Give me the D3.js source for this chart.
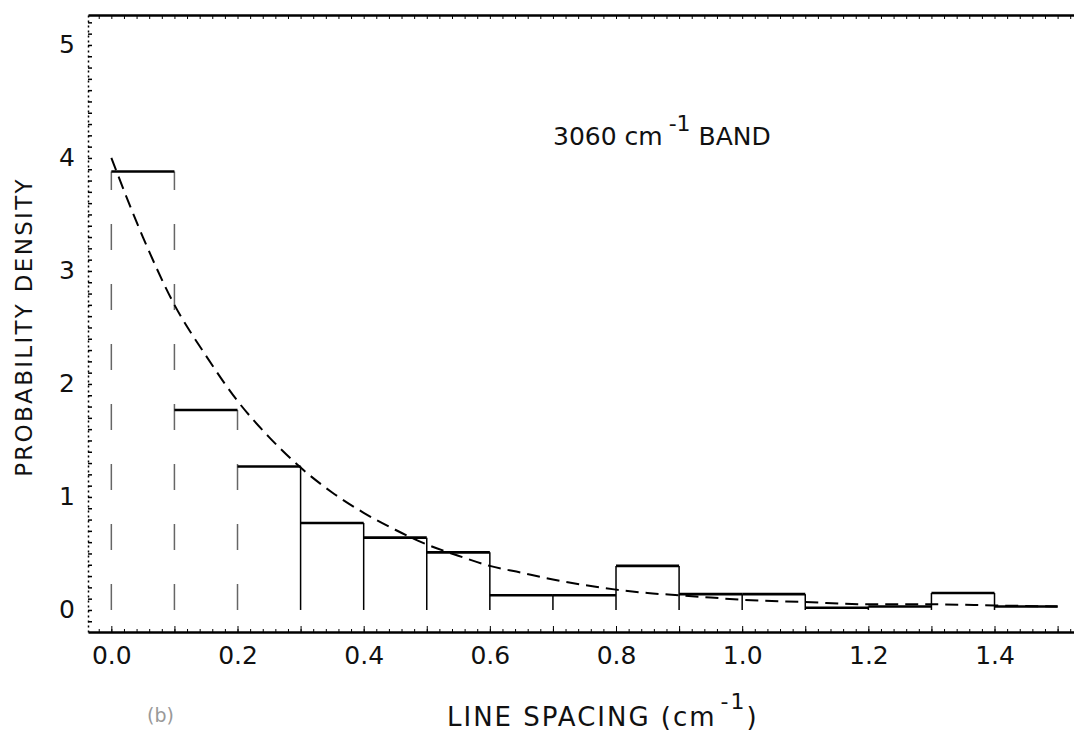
<!DOCTYPE html>
<html>
<head>
<meta charset="utf-8">
<script src="https://cdn.jsdelivr.net/npm/d3@7"></script>
<style>
    body { margin: 0; background: #fff; }
    svg { display: block; background: #fff; }
    text { font-family: "DejaVu Sans", sans-serif; fill: #111; }
</style>
</head>
<body>
<svg id="chart" width="1074" height="734"></svg>
<script>
// histogram bins (left edge, cm-1) and their heights
const binStarts = [0.0, 0.1, 0.2, 0.3, 0.4, 0.5, 0.6, 0.7, 0.8, 0.9, 1.0, 1.1, 1.2, 1.3, 1.4];
const binWidth = 0.1;
const binHeights = [3.88, 1.77, 1.27, 0.77, 0.64, 0.51, 0.13, 0.13, 0.39, 0.14, 0.14, 0.02, 0.03, 0.15, 0.03];

// dashed fitted curve
const curveX = [0.0, 0.05, 0.1, 0.15, 0.2, 0.25, 0.3, 0.35, 0.4, 0.45, 0.5, 0.55, 0.6, 0.65, 0.7, 0.75, 0.8, 0.85, 0.9, 0.95, 1.0, 1.1, 1.2, 1.3, 1.4, 1.5];
const curveY = [4.0, 3.3, 2.7, 2.25, 1.85, 1.53, 1.26, 1.04, 0.86, 0.71, 0.58, 0.48, 0.39, 0.33, 0.27, 0.22, 0.18, 0.15, 0.13, 0.11, 0.09, 0.07, 0.05, 0.05, 0.04, 0.03];

const xTickValues = [0.0, 0.2, 0.4, 0.6, 0.8, 1.0, 1.2, 1.4];
const xTickLabels = ['0.0', '0.2', '0.4', '0.6', '0.8', '1.0', '1.2', '1.4'];
const yTickValues = [0, 1, 2, 3, 4, 5];
const yTickLabels = ['0', '1', '2', '3', '4', '5'];

const bandLabel = '3060 cm';
const bandSup = '-1';
const bandRest = ' BAND';
const yTitle = 'PROBABILITY DENSITY';
const xTitle = 'LINE SPACING (cm';
const panelTag = '(b)';

const svg = d3.select('#chart');

const x = d3.scaleLinear()
    .domain([-0.037, 1.526])
    .range([88, 1074]);

const y = d3.scaleLinear()
    .domain([-0.195, 5.265])
    .range([632, 15]);

// minor tick positions along the frame
const xMinor = d3.range(-0.02, 1.53, 0.02);
const xMajor = d3.range(0, 1.51, 0.1);
const yMinor = d3.range(-0.1, 5.25, 0.1);

// bottom axis: minor ticks, then major ticks with labels
svg.append('g')
    .attr('transform', `translate(0, ${y.range()[0]})`)
    .call(d3.axisBottom(x).tickValues(xMinor).tickSize(-3).tickSizeOuter(0).tickFormat(''))
    .call(g => g.select('.domain').attr('stroke-width', 2.5));

svg.append('g')
    .attr('transform', `translate(0, ${y.range()[0]})`)
    .call(d3.axisBottom(x).tickValues(xMajor).tickSize(-6).tickSizeOuter(0).tickFormat(''))
    .call(g => g.select('.domain').remove());

svg.append('g')
    .attr('transform', `translate(0, ${y.range()[0]})`)
    .call(d3.axisBottom(x).tickValues(xTickValues).tickSize(0).tickPadding(14)
        .tickFormat((d, i) => xTickLabels[i]))
    .call(g => g.select('.domain').remove())
    .selectAll('text')
    .style('font-size', '25px')
    .style('fill', '#111');

// top frame line with downward ticks
svg.append('g')
    .attr('transform', `translate(0, ${y.range()[1]})`)
    .call(d3.axisTop(x).tickValues(xMinor).tickSize(-4).tickSizeOuter(0).tickFormat(''))
    .call(g => g.select('.domain').attr('stroke-width', 2.5));

// left axis: dotted line with inward ticks
svg.append('g')
    .attr('transform', `translate(${x.range()[0]}, 0)`)
    .call(d3.axisLeft(y).tickValues(yMinor).tickSize(-4).tickSizeOuter(0).tickFormat(''))
    .call(g => g.select('.domain').attr('stroke-dasharray', '2,3').attr('stroke-width', 1.5))
    .call(g => g.selectAll('.tick line').attr('stroke-width', 1.5));

svg.append('g')
    .attr('transform', `translate(${x.range()[0]}, 0)`)
    .call(d3.axisLeft(y).tickValues(yTickValues).tickSize(0).tickPadding(13)
        .tickFormat((d, i) => yTickLabels[i]))
    .call(g => g.select('.domain').remove())
    .selectAll('text')
    .style('font-size', '25px')
    .style('fill', '#111');

// histogram: each bin as an open box (no bottom)
const bins = binStarts.map((s, i) => ({ x0: s, x1: s + binWidth, h: binHeights[i] }));

const hist = svg.append('g').attr('fill', 'none').attr('stroke', '#000');

// vertical edges (the first ones are faint / broken in the scan)
hist.selectAll('line.edge')
    .data(bins)
    .join('line')
    .attr('class', 'edge')
    .attr('x1', d => x(d.x0))
    .attr('x2', d => x(d.x0))
    .attr('y1', y(0))
    .attr('y2', (d, i) => y(Math.max(d.h, i > 0 ? bins[i - 1].h : 0)))
    .attr('stroke-width', 1.5)
    .attr('stroke', d => d.x0 < 0.25 ? '#666' : '#000')
    .attr('stroke-dasharray', d => d.x0 < 0.25 ? '26,34' : null);

// bin tops
hist.selectAll('line.top')
    .data(bins)
    .join('line')
    .attr('class', 'top')
    .attr('x1', d => x(d.x0))
    .attr('x2', d => x(d.x1))
    .attr('y1', d => y(d.h))
    .attr('y2', d => y(d.h))
    .attr('stroke-width', 2.6);

// dashed curve
const curvePts = curveX.map((v, i) => [v, curveY[i]]);
svg.append('path')
    .datum(curvePts)
    .attr('fill', 'none')
    .attr('stroke', '#000')
    .attr('stroke-width', 2)
    .attr('stroke-dasharray', '13,7')
    .attr('d', d3.line().x(d => x(d[0])).y(d => y(d[1])).curve(d3.curveMonotoneX));

// band annotation
const band = svg.append('text')
    .attr('x', 553)
    .attr('y', 145)
    .style('font-size', '25px');
band.append('tspan').text(bandLabel);
band.append('tspan').attr('dx', 6).attr('dy', -14).style('font-size', '22px').text(bandSup);
band.append('tspan').attr('dy', 14).text(bandRest);

// y title
svg.append('text')
    .attr('transform', 'translate(32, 327) rotate(-90)')
    .attr('text-anchor', 'middle')
    .style('font-size', '23px')
    .style('letter-spacing', '2.3px')
    .text(yTitle);

// x title
const xt = svg.append('text')
    .attr('x', 447)
    .attr('y', 726)
    .style('font-size', '26px')
    .style('letter-spacing', '2px');
xt.append('tspan').text(xTitle);
xt.append('tspan').attr('dx', 4).attr('dy', -17).style('font-size', '22px').text(bandSup);
xt.append('tspan').attr('dy', 17).text(')');

// panel tag
svg.append('text')
    .attr('x', 147)
    .attr('y', 722)
    .style('font-size', '19px')
    .style('fill', '#999')
    .text(panelTag);
</script>
</body>
</html>
